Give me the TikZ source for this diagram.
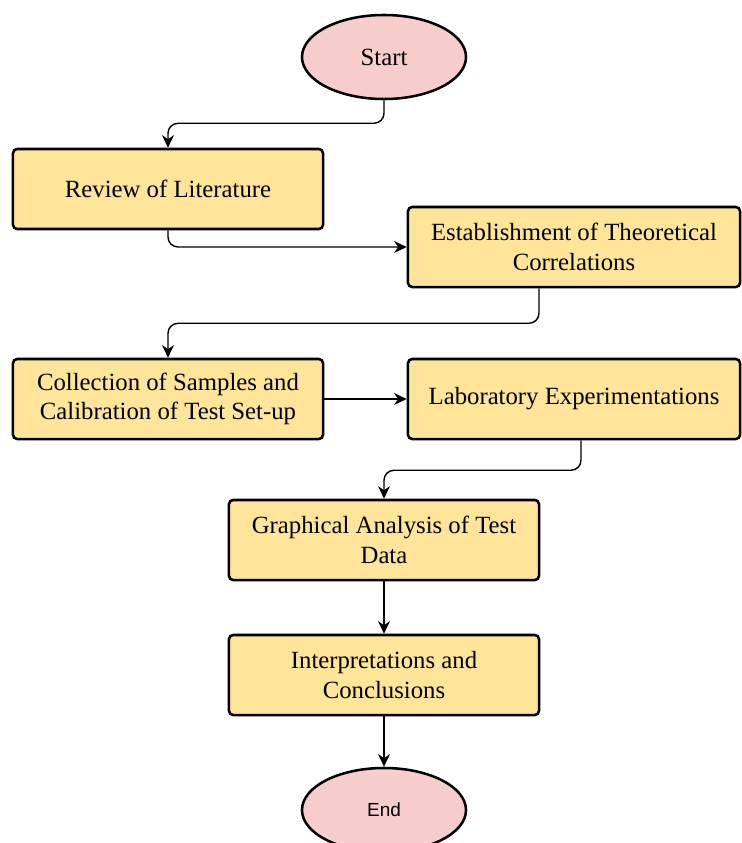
\documentclass[tikz,border=0pt]{standalone}
\usepackage{fontspec}
\setmainfont{Liberation Serif}
\newfontfamily\endfont{Liberation Sans}
\usetikzlibrary{arrows.meta,positioning,shapes.geometric}
\definecolor{boxfill}{RGB}{255,229,153}
\definecolor{termfill}{RGB}{248,206,204}

\begin{document}
\begin{tikzpicture}[
  x=0.025cm,y=-0.025cm,
  >={Stealth[length=9pt,width=8.5pt]},
  terminal/.style={ellipse,draw=black,line width=1.8pt,fill=termfill,
    minimum width=4.1cm,minimum height=2.1cm,inner sep=0pt},
  process/.style={draw=black,line width=1.8pt,rounded corners=3pt,fill=boxfill,
    minimum width=7.75cm,minimum height=2.0cm,align=center,
    font=\fontsize{17.6}{20.8}\selectfont},
  wideprocess/.style={process,minimum width=8.3cm},
  flow/.style={->,line width=1pt,rounded corners=0.25cm}
]
\useasboundingbox (0,0) rectangle (742,843);
\node[terminal,font=\fontsize{17.6}{20.8}\selectfont] (start) at (384,57) {Start};
\node[process] (review) at (168,189) {Review of Literature};
\node[wideprocess] (establish) at (574,247)
  {Establishment of Theoretical\\Correlations};
\node[process] (collect) at (168,399)
  {Collection of Samples and\\Calibration of Test Set-up};
\node[wideprocess] (lab) at (574,399) {Laboratory Experimentations};
\node[process] (graph) at (384,540)
  {Graphical Analysis of Test\\Data};
\node[process] (interp) at (384,675)
  {Interpretations and\\Conclusions};
\node[terminal,font=\endfont\fontsize{13.5}{16}\selectfont] (stop) at (384,810) {End};
\draw[flow] (start.south)--++(0,23)-|(review.north);
\draw[flow] (review.south)|-(establish.west);
\draw[flow] ([xshift=-0.875cm]establish.south)--++(0,35)-|(collect.north);
\draw[flow] (collect)--(lab);
\draw[flow] ([xshift=0.175cm]lab.south)--++(0,30)-|(graph.north);
\draw[flow] (graph)--(interp);
\draw[flow] (interp)--(stop);
\end{tikzpicture}
\end{document}
